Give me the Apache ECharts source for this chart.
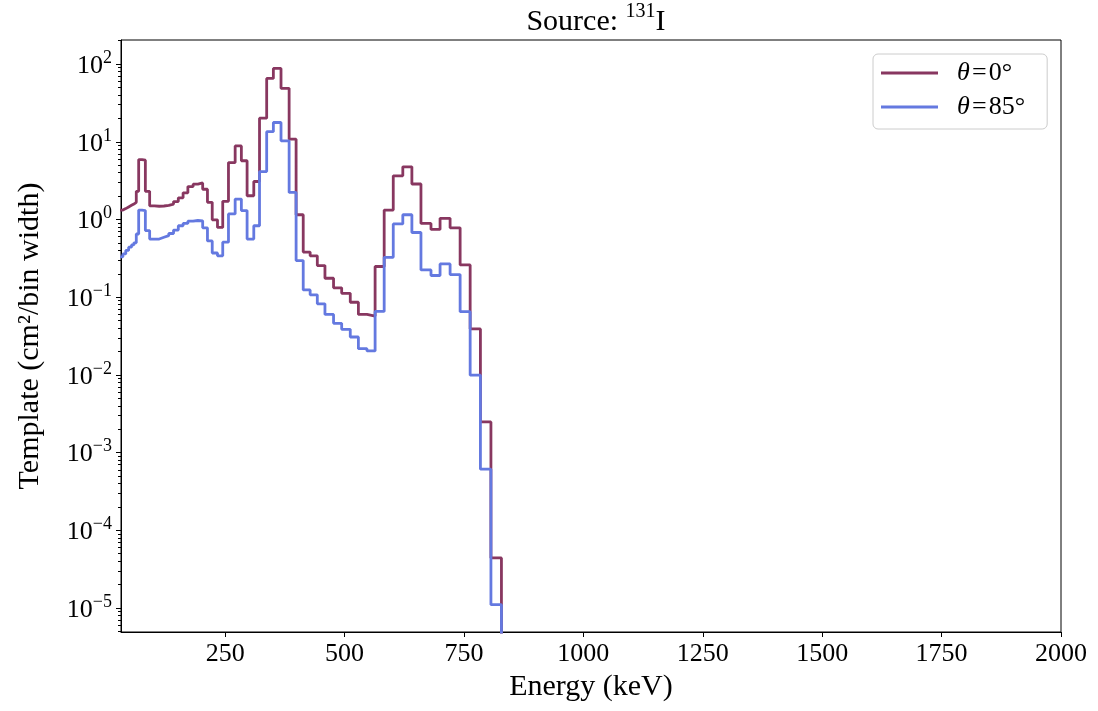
<!DOCTYPE html>
<html>
<head>
<meta charset="utf-8">
<script src="https://cdn.jsdelivr.net/npm/echarts@6/dist/echarts.min.js"></script>
<style>
html,body{margin:0;padding:0;background:#fff;}
#chart{width:1098px;height:711px;}
</style>
</head>
<body>
<div id="chart"></div>
<script>
// Histogram bin edges (keV)
const binEdges = [30, 36, 42, 48, 54, 59, 64, 69, 76, 83, 92, 102, 112, 122, 132, 142, 152, 162, 172, 183, 193, 203, 213, 223, 234, 245, 257, 271, 284, 296, 310, 322, 337, 351, 367, 384, 398.6, 413.5, 428, 443, 459, 477, 494, 512, 529, 547, 564, 583, 602, 622, 641, 660, 681, 700, 721, 742, 763, 784.5, 806.5, 828.5];
// Template values per bin, theta = 0 deg
const theta0 = [1.32, 1.38, 1.45, 1.52, 1.58, 1.66, 2.3, 5.9, 5.8, 2.3, 1.50, 1.48, 1.49, 1.52, 1.58, 1.70, 1.90, 2.20, 2.65, 2.85, 2.95, 2.45, 1.66, 0.99, 0.79, 1.71, 5.4, 8.85, 5.7, 2.02, 3.08, 20.1, 65.4, 88, 48.8, 10.8, 1.15, 0.38, 0.34, 0.255, 0.175, 0.132, 0.112, 0.086, 0.060, 0.057, 0.248, 1.32, 3.65, 4.76, 2.86, 0.89, 0.745, 1.035, 0.78, 0.26, 0.039, 0.00248, 0.000044];
// Template values per bin, theta = 85 deg
const theta85 = [0.33, 0.36, 0.40, 0.44, 0.47, 0.50, 0.65, 1.32, 1.30, 0.72, 0.56, 0.56, 0.59, 0.62, 0.66, 0.73, 0.83, 0.89, 0.95, 0.97, 0.96, 0.78, 0.53, 0.37, 0.34, 0.51, 1.18, 1.83, 1.30, 0.56, 0.83, 4.14, 13.5, 17.7, 10.3, 2.23, 0.296, 0.124, 0.107, 0.082, 0.060, 0.046, 0.0385, 0.0307, 0.0217, 0.0203, 0.0656, 0.326, 0.875, 1.15, 0.68, 0.224, 0.19, 0.268, 0.195, 0.065, 0.0099, 0.00061, 0.000011];
const seriesNames = ['θ=0°', 'θ=85°'];
const xTicks = [250, 500, 750, 1000, 1250, 1500, 1750, 2000];
const yTickExponents = [-5, -4, -3, -2, -1, 0, 1, 2];

const FONT = '"Liberation Serif", "DejaVu Serif", serif';
const yMin = Math.pow(10, -5.31);
const yMax = Math.pow(10, 2.31);

function stepData(vals) {
  const d = vals.map((v, i) => [binEdges[i], v]);
  const last = binEdges[binEdges.length - 1];
  d.push([last, vals[vals.length - 1]]);
  d.push([last, 1e-12]); // drop to zero (clipped below axis)
  return d;
}

const majorVals = yTickExponents.map(e => Math.pow(10, e));
const minorVals = [];
for (let e = -6; e <= 2; e++) {
  for (let k = 2; k <= 9; k++) {
    const v = k * Math.pow(10, e);
    if (v > yMin && v < yMax) minorVals.push(v);
  }
}

const chart = echarts.init(document.getElementById('chart'), null, {renderer: 'canvas'});
const option = {
  animation: false,
  backgroundColor: '#fff',
  title: {
    text: '{a|Source: }{s|131}{a|I}',
    left: 591,
    textAlign: 'center',
    top: -3,
    textStyle: {
      fontWeight: 'normal',
      rich: {
        a: {fontFamily: FONT, fontSize: 30, fontWeight: 'normal', color: '#000', lineHeight: 35, verticalAlign: 'bottom'},
        s: {fontFamily: FONT, fontSize: 20, fontWeight: 'normal', color: '#000', lineHeight: 35, verticalAlign: 'top'}
      }
    }
  },
  legend: {
    left: 873,
    top: 54,
    orient: 'vertical',
    data: seriesNames,
    icon: 'rect',
    itemWidth: 57,
    itemHeight: 3,
    itemGap: 8,
    padding: [6, 22, 9, 8],
    borderColor: '#cccccc',
    borderWidth: 1,
    borderRadius: 5,
    formatter: function (name) {
      const deg = name === seriesNames[0] ? '0°' : '85°';
      return '{i|θ}{t|\u200a=\u200a' + deg + '}';
    },
    textStyle: {
      padding: [0, 0, 0, 14],
      rich: {
        i: {fontFamily: FONT, fontSize: 26, fontStyle: 'italic', color: '#000', lineHeight: 30},
        t: {fontFamily: FONT, fontSize: 26, color: '#000', lineHeight: 30}
      }
    }
  },
  grid: {
    left: 121, top: 40, right: 37, bottom: 79,
    show: true, borderColor: '#000', borderWidth: 1, backgroundColor: 'transparent'
  },
  xAxis: {
    type: 'value',
    min: 32,
    max: 2000,
    name: 'Energy (keV)',
    nameLocation: 'middle',
    nameGap: 40,
    nameTextStyle: {fontFamily: FONT, fontSize: 30, color: '#000'},
    axisLine: {show: true, lineStyle: {color: '#000', width: 1}},
    axisTick: {show: true, customValues: xTicks, length: 5, inside: false, lineStyle: {color: '#000', width: 1}},
    axisLabel: {
      customValues: xTicks,
      fontFamily: FONT, fontSize: 26, color: '#000', margin: 9,
      formatter: function (v) { return String(v); }
    },
    splitLine: {show: false}
  },
  yAxis: [
    {
      type: 'log',
      logBase: 10,
      min: yMin,
      max: yMax,
      name: 'Template (cm²/bin width)',
      nameLocation: 'middle',
      nameGap: 76,
      nameTextStyle: {fontFamily: FONT, fontSize: 30, color: '#000'},
      axisLine: {show: true, lineStyle: {color: '#000', width: 1}},
      axisTick: {show: true, customValues: majorVals, length: 5, inside: false, lineStyle: {color: '#000', width: 1}},
      axisLabel: {
        customValues: majorVals,
        fontFamily: FONT,
        margin: 9,
        formatter: function (v) {
          const e = Math.round(Math.log10(v));
          const s = e < 0 ? '\u2212' + (-e) : String(e);
          return '{b|10}{s|' + s + '}';
        },
        rich: {
          b: {fontFamily: FONT, fontSize: 26, color: '#000', lineHeight: 30, verticalAlign: 'bottom'},
          s: {fontFamily: FONT, fontSize: 18, color: '#000', lineHeight: 30, verticalAlign: 'top'}
        }
      },
      splitLine: {show: false}
    },
    {
      type: 'log',
      logBase: 10,
      min: yMin,
      max: yMax,
      position: 'left',
      axisLine: {show: false},
      axisTick: {show: true, customValues: minorVals, length: 3, inside: false, lineStyle: {color: '#000', width: 1}},
      axisLabel: {show: false},
      splitLine: {show: false}
    }
  ],
  series: [
    {
      name: seriesNames[0],
      type: 'line',
      step: 'end',
      data: stepData(theta0),
      showSymbol: false,
      symbol: 'none',
      clip: true,
      color: '#883760',
      lineStyle: {color: '#883760', width: 2.8},
      z: 3
    },
    {
      name: seriesNames[1],
      type: 'line',
      step: 'end',
      data: stepData(theta85),
      showSymbol: false,
      symbol: 'none',
      clip: true,
      color: '#6479e0',
      lineStyle: {color: '#6479e0', width: 2.8},
      z: 4
    }
  ]
};
chart.setOption(option);
</script>
</body>
</html>
